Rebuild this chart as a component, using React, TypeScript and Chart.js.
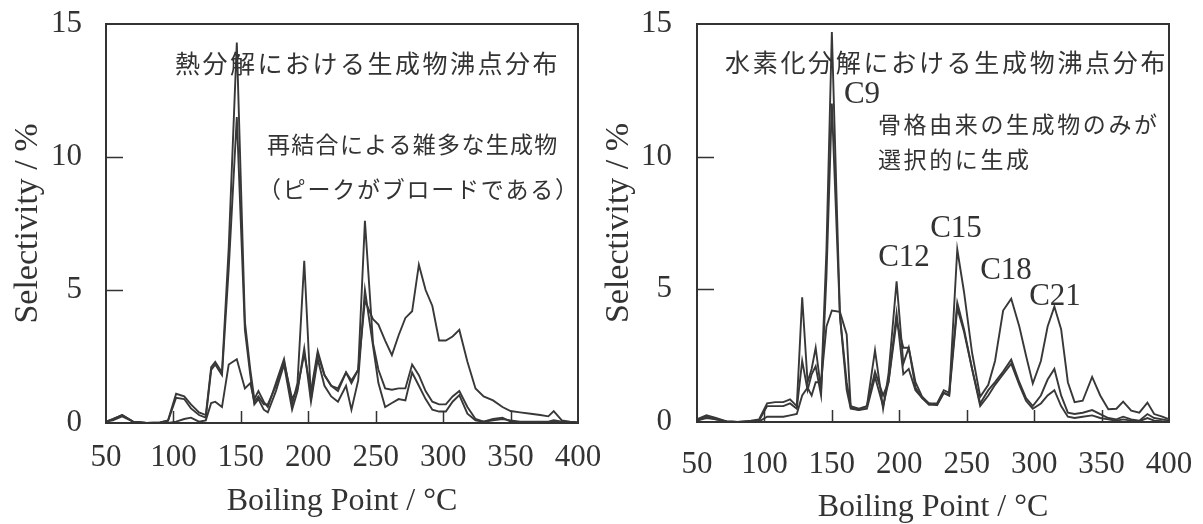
import React, { useEffect, useRef } from "react";
import { Chart, registerables } from "chart.js";

Chart.register(...registerables);

// ---------- data: left chart (熱分解) ----------
const leftTemps = [50, 55, 62, 70, 80, 90, 96, 102, 108, 113, 119, 124, 128, 131, 136, 141, 147, 153, 157, 160, 163, 167, 170, 176, 182, 188, 192, 197, 202, 207, 212, 217, 222, 228, 232, 237, 242, 248, 252, 257, 262, 267, 272, 277, 282, 287, 292, 297, 302, 307, 312, 318, 324, 330, 337, 344, 350, 357, 365, 372, 378, 382, 388, 394, 400];
const leftSeriesA = [0.05, 0.15, 0.3, 0.05, 0, 0.02, 0.1, 1.1, 1.0, 0.7, 0.4, 0.3, 2.1, 2.3, 1.9, 6.6, 14.3, 3.8, 2.0, 0.9, 1.2, 0.8, 0.6, 1.5, 2.4, 0.7, 1.5, 6.1, 0.9, 2.6, 1.8, 1.4, 1.2, 1.9, 1.6, 2.0, 7.6, 3.0, 2.0, 1.3, 1.25, 1.3, 1.3, 2.2, 1.8, 1.2, 0.8, 0.7, 0.7, 1.0, 1.2, 0.6, 0.15, 0.05, 0.1, 0.15, 0.1, 0.05, 0.05, 0.05, 0.05, 0.1, 0.05, 0.02, 0];
const leftSeriesB = [0.05, 0.1, 0.25, 0.05, 0, 0.02, 0.08, 0.95, 0.9, 0.55, 0.3, 0.2, 2.0, 2.2, 1.8, 5.8, 11.5, 3.5, 1.8, 0.7, 0.9, 0.5, 0.4, 1.2, 2.2, 0.5, 1.2, 2.8, 0.8, 2.4, 1.4, 1.0, 0.8, 1.4, 0.5, 1.6, 5.0, 2.9, 1.5, 0.6, 0.75, 0.9, 0.85, 1.9, 1.4, 0.9, 0.5, 0.43, 0.43, 0.8, 1.05, 0.35, 0.1, 0.05, 0.15, 0.2, 0.05, 0.03, 0.03, 0.02, 0.02, 0.05, 0.02, 0, 0];
const leftSeriesC = [0.05, 0.15, 0.3, 0.05, 0, 0, 0, 0.05, 0.15, 0.2, 0.05, 0.1, 0.75, 0.8, 0.6, 2.2, 2.4, 1.3, 1.5, 0.8, 1.0, 0.7, 0.7, 1.4, 2.3, 0.9, 1.3, 2.6, 1.2, 2.7, 1.8, 1.4, 1.3, 1.9, 1.5, 2.0, 4.6, 3.9, 3.7, 3.1, 2.55, 3.3, 3.95, 4.2, 5.95, 5.0, 4.4, 3.1, 3.1, 3.25, 3.5, 2.3, 1.3, 1.0, 0.85, 0.6, 0.45, 0.4, 0.35, 0.3, 0.25, 0.45, 0.1, 0.05, 0.03];

// ---------- data: right chart (水素化分解) ----------
const rightTemps = [50, 57, 64, 72, 80, 90, 96, 102, 108, 114, 119, 124, 128, 132, 135, 138, 142, 146, 150, 156, 161, 164, 170, 176, 182, 188, 192, 198, 203, 207, 212, 217, 222, 228, 233, 237, 243, 248, 254, 260, 266, 271, 277, 283, 289, 294, 299, 305, 310, 315, 320, 325, 330, 336, 343, 349, 355, 361, 366, 372, 378, 384, 389, 395, 400];
const rightSeriesD = [0.1, 0.25, 0.15, 0.02, 0, 0.05, 0.1, 0.7, 0.75, 0.75, 0.85, 0.6, 4.7, 1.5, 2.0, 2.8, 1.2, 6.5, 14.7, 4.0, 1.5, 0.6, 0.5, 0.6, 2.7, 0.5, 1.8, 5.3, 2.2, 2.8, 1.3, 0.9, 0.7, 0.7, 1.2, 1.1, 4.5, 3.5, 2.0, 0.7, 1.2, 1.5, 1.9, 2.35, 1.5, 0.9, 0.6, 1.0, 1.6, 2.0, 1.0, 0.35, 0.3, 0.35, 0.45, 0.3, 0.15, 0.1, 0.2, 0.1, 0.05, 0.3, 0.15, 0.1, 0.05];
const rightSeriesF = [0.05, 0.2, 0.1, 0.02, 0, 0.02, 0.05, 0.6, 0.6, 0.6, 0.7, 0.5, 2.3, 1.2, 1.8, 2.1, 1.0, 5.5, 12.0, 4.0, 1.2, 0.5, 0.45, 0.5, 1.7, 0.6, 1.5, 4.1, 1.8, 2.0, 1.2, 0.9, 0.65, 0.65, 1.1, 1.0, 4.3, 3.4, 2.0, 0.6, 1.0, 1.4, 1.8, 2.2, 1.4, 0.8, 0.5, 0.7, 1.0, 1.2, 0.6, 0.2, 0.15, 0.2, 0.25, 0.15, 0.1, 0.05, 0.1, 0.05, 0.03, 0.15, 0.05, 0.03, 0.02];
const rightSeriesE = [0.05, 0.15, 0.1, 0.02, 0, 0, 0.02, 0.2, 0.2, 0.2, 0.25, 0.3, 1.0, 1.3, 1.0, 1.5, 1.5, 3.6, 4.2, 4.15, 3.3, 0.55, 0.45, 0.6, 1.9, 1.0, 1.5, 3.8, 2.8, 2.8, 1.5, 0.95, 0.7, 0.63, 1.1, 1.0, 6.5, 4.9, 2.6, 0.95, 1.4, 2.3, 4.2, 4.65, 3.6, 2.5, 1.45, 2.3, 3.6, 4.35, 3.5, 1.5, 0.75, 0.8, 1.7, 1.0, 0.48, 0.5, 0.77, 0.43, 0.35, 0.73, 0.3, 0.2, 0.1];

// ---------- axes ----------
const xTickValues = [50, 100, 150, 200, 250, 300, 350, 400];
const yTickValues = [0, 5, 10, 15];
const xTitle = "Boiling Point / °C";
const yTitle = "Selectivity / %";

// ---------- annotation texts ----------
const leftNotes = ["熱分解における生成物沸点分布", "再結合による雑多な生成物", "（ピークがブロードである）"];
const rightNotes = ["水素化分解における生成物沸点分布", "骨格由来の生成物のみが", "選択的に生成"];
const rightPeakLabels = ["C9", "C12", "C15", "C18", "C21"];

const INK = "#333333";
const LINE = "#383838";
const SERIF = '"Liberation Serif", "Times New Roman", serif';
const JP = '"Noto Sans CJK JP", "Noto Sans CJK SC", sans-serif';

type Area = { left: number; top: number; right: number; bottom: number };
type JpLine = { text: string; x: number; y: number; size: number; pitch: number };
type Lbl = { text: string; x: number; y: number };
type AxisPads = { yTitle: number; yTick: number; xTick: number; xTitle: number };

function makeConfig(
  W: number,
  H: number,
  temps: number[],
  series: number[][],
  area: Area,
  pads: AxisPads,
  jp: JpLine[],
  lbls: Lbl[]
): any {
  const datasets = series.map((s) => ({
    data: s.map((v, i) => ({ x: temps[i], y: v })),
    borderColor: LINE,
    borderWidth: 1.9,
    pointRadius: 0,
    tension: 0,
    fill: false,
  }));

  const decor = {
    id: "decor",
    afterDatasetsDraw(chart: any) {
      const { ctx, chartArea: a, scales } = chart;
      ctx.save();
      ctx.strokeStyle = INK;
      ctx.lineWidth = 2;
      ctx.strokeRect(a.left, a.top, a.right - a.left, a.bottom - a.top);
      ctx.lineWidth = 1.5;
      ctx.beginPath();
      for (const v of yTickValues) {
        if (v === yTickValues[0] || v === yTickValues[yTickValues.length - 1]) continue;
        const py = Math.round(scales.y.getPixelForValue(v)) + 0.5;
        ctx.moveTo(a.left, py);
        ctx.lineTo(a.left + 17, py);
      }
      for (const v of xTickValues) {
        if (v === xTickValues[0] || v === xTickValues[xTickValues.length - 1]) continue;
        const px = Math.round(scales.x.getPixelForValue(v)) + 0.5;
        ctx.moveTo(px, a.bottom);
        ctx.lineTo(px, a.bottom - 12);
      }
      ctx.stroke();

      ctx.fillStyle = INK;
      ctx.textBaseline = "middle";
      ctx.textAlign = "left";
      for (const l of jp) {
        ctx.font = `${l.size}px ${JP}`;
        Array.from(l.text).forEach((ch, i) => {
          ctx.fillText(ch, l.x + i * l.pitch, l.y);
        });
      }
      ctx.textAlign = "center";
      ctx.font = `31px ${SERIF}`;
      for (const l of lbls) {
        ctx.fillText(l.text, l.x, l.y);
      }
      ctx.restore();
    },
  };

  return {
    type: "line",
    data: { datasets },
    plugins: [decor],
    options: {
      animation: false,
      responsive: false,
      maintainAspectRatio: false,
      layout: { padding: { left: 0, top: area.top, right: W - area.right, bottom: 0 } },
      plugins: { legend: { display: false }, tooltip: { enabled: false } },
      scales: {
        x: {
          type: "linear",
          min: xTickValues[0],
          max: xTickValues[xTickValues.length - 1],
          afterBuildTicks: (s: any) => {
            s.ticks = xTickValues.map((v) => ({ value: v }));
          },
          afterFit: (s: any) => {
            s.height = H - area.bottom;
            s.paddingLeft = 0;
            s.paddingRight = 0;
          },
          grid: { display: false, drawTicks: false },
          border: { display: false },
          ticks: { color: INK, padding: pads.xTick, maxRotation: 0, font: { family: SERIF, size: 31, lineHeight: 1 } },
          title: { display: true, text: xTitle, color: INK, padding: { top: 0, bottom: pads.xTitle }, font: { family: SERIF, size: 32, lineHeight: 1 } },
        },
        y: {
          type: "linear",
          min: yTickValues[0],
          max: yTickValues[yTickValues.length - 1],
          afterBuildTicks: (s: any) => {
            s.ticks = yTickValues.map((v) => ({ value: v }));
          },
          afterFit: (s: any) => {
            s.width = area.left;
            s.paddingTop = 0;
            s.paddingBottom = 0;
          },
          grid: { display: false, drawTicks: false },
          border: { display: false },
          ticks: { color: INK, padding: pads.yTick, font: { family: SERIF, size: 31, lineHeight: 1 } },
          title: { display: true, text: yTitle, color: INK, padding: { top: pads.yTitle, bottom: 0 }, font: { family: SERIF, size: 34, lineHeight: 1 } },
        },
      },
    },
  };
}

function Panel(props: { left: number; width: number; cfg: () => any }) {
  const ref = useRef<HTMLCanvasElement | null>(null);
  useEffect(() => {
    if (!ref.current) return;
    const chart = new Chart(ref.current, props.cfg());
    return () => chart.destroy();
  }, []);
  return (
    <canvas
      ref={ref}
      width={props.width}
      height={524}
      style={{ position: "absolute", left: props.left, top: 0, width: props.width, height: 524 }}
    />
  );
}

export default function App() {
  const leftCfg = () =>
    makeConfig(
      600,
      524,
      leftTemps,
      [leftSeriesA, leftSeriesB, leftSeriesC],
      { left: 106, top: 24, right: 578, bottom: 423 },
      { yTitle: 11, yTick: 24, xTick: 19, xTitle: 6 },
      [
        { text: leftNotes[0], x: 175, y: 63, size: 25, pitch: 27.5 },
        { text: leftNotes[1], x: 267, y: 144, size: 23, pitch: 24.3 },
        { text: leftNotes[2], x: 258, y: 189, size: 23, pitch: 24.75 },
      ],
      []
    );
  const rightCfg = () =>
    makeConfig(
      603,
      524,
      rightTemps,
      [rightSeriesD, rightSeriesF, rightSeriesE],
      { left: 97, top: 24, right: 569, bottom: 422 },
      { yTitle: 2, yTick: 25, xTick: 27, xTitle: 0 },
      [
        { text: rightNotes[0], x: 125, y: 62, size: 25, pitch: 27.7 },
        { text: rightNotes[1], x: 278, y: 124, size: 23, pitch: 25.6 },
        { text: rightNotes[2], x: 278, y: 159, size: 23, pitch: 25.6 },
      ],
      [
        { text: rightPeakLabels[0], x: 262, y: 95 },
        { text: rightPeakLabels[1], x: 904 - 600, y: 258 },
        { text: rightPeakLabels[2], x: 956 - 600, y: 229 },
        { text: rightPeakLabels[3], x: 1006 - 600, y: 271 },
        { text: rightPeakLabels[4], x: 1055 - 600, y: 297 },
      ]
    );
  return (
    <div style={{ position: "fixed", left: 0, top: 0, width: 1203, height: 524, background: "#ffffff" }}>
      <Panel left={0} width={600} cfg={leftCfg} />
      <Panel left={600} width={603} cfg={rightCfg} />
    </div>
  );
}
